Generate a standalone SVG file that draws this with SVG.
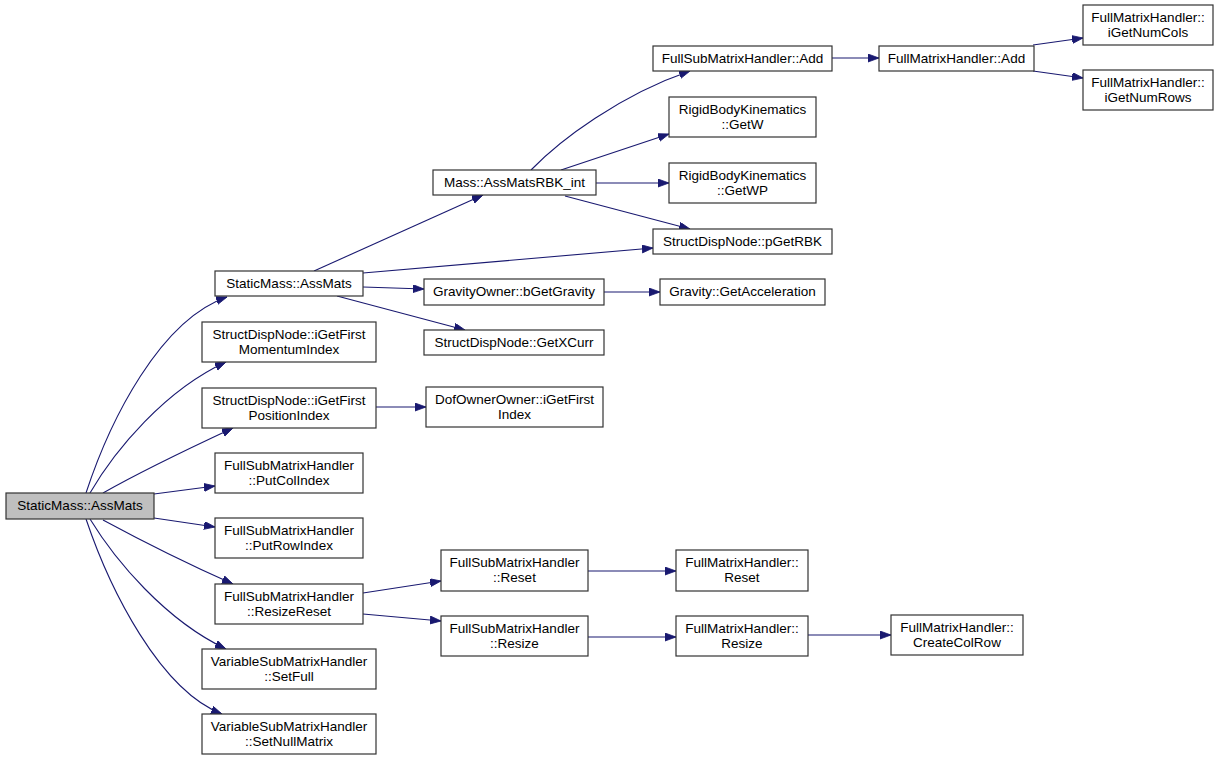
<svg xmlns="http://www.w3.org/2000/svg" width="1221" height="760" viewBox="0 0 1221 760">
<style>
.n rect{fill:#ffffff;stroke:#333333;stroke-width:1.2}
.root rect{fill:#bfbfbf;stroke:#333333;stroke-width:1.2}
text{font-family:"Liberation Sans",Arial,sans-serif;font-size:13.5px;fill:#000000;text-anchor:middle}
#edges path{fill:none;stroke:#191970;stroke-width:1.1;marker-end:url(#ah)}
</style>
<defs>
<marker id="ah" markerUnits="userSpaceOnUse" markerWidth="12" markerHeight="9" refX="11" refY="4" orient="auto">
<path d="M0,0 L11,4 L0,8 z" fill="#191970" stroke="#191970" stroke-width="0.8"/>
</marker>
</defs>
<rect width="1221" height="760" fill="#ffffff"/>
<g id="edges">
<path d="M86,493 C110,420 160,320 227,297"/>
<path d="M90,493 C115,450 165,390 226,362"/>
<path d="M103,493 C140,472 190,448 233,428"/>
<path d="M154,494 L215,486"/>
<path d="M154,518 L215,527"/>
<path d="M103,520 C140,540 190,565 233,584"/>
<path d="M90,519 C115,560 165,620 226,649"/>
<path d="M86,519 C110,590 160,690 222,714"/>
<path d="M314,271 L483,195"/>
<path d="M363,273 L653,248"/>
<path d="M363,287 L424,289"/>
<path d="M337,296 L465,330"/>
<path d="M531,170 C560,140 620,95 690,71"/>
<path d="M561,170 L669,134"/>
<path d="M596,183 L669,183"/>
<path d="M565,196 L690,229"/>
<path d="M832,58 L879,58"/>
<path d="M1033,45 L1083,38"/>
<path d="M1033,71 L1083,78"/>
<path d="M604,292 L660,292"/>
<path d="M376,407 L426,407"/>
<path d="M363,593 L441,581"/>
<path d="M363,614 L441,621"/>
<path d="M588,571 L676,571"/>
<path d="M588,637 L676,637"/>
<path d="M808,635 L891,635"/>
</g>
<g id="n0" class="root"><rect x="6" y="493" width="148" height="26"/><text x="80" y="510">StaticMass::AssMats</text></g>
<g id="n1" class="n"><rect x="215" y="271" width="148" height="25"/><text x="289" y="288">StaticMass::AssMats</text></g>
<g id="n2" class="n"><rect x="202" y="322" width="174" height="40"/><text x="289" y="339">StructDispNode::iGetFirst</text><text x="289" y="354">MomentumIndex</text></g>
<g id="n3" class="n"><rect x="202" y="388" width="174" height="40"/><text x="289" y="405">StructDispNode::iGetFirst</text><text x="289" y="420">PositionIndex</text></g>
<g id="n4" class="n"><rect x="215" y="453" width="148" height="40"/><text x="289" y="470">FullSubMatrixHandler</text><text x="289" y="485">::PutColIndex</text></g>
<g id="n5" class="n"><rect x="215" y="518" width="148" height="40"/><text x="289" y="535">FullSubMatrixHandler</text><text x="289" y="550">::PutRowIndex</text></g>
<g id="n6" class="n"><rect x="215" y="584" width="148" height="40"/><text x="289" y="601">FullSubMatrixHandler</text><text x="289" y="616">::ResizeReset</text></g>
<g id="n7" class="n"><rect x="202" y="649" width="174" height="40"/><text x="289" y="666">VariableSubMatrixHandler</text><text x="289" y="681">::SetFull</text></g>
<g id="n8" class="n"><rect x="202" y="714" width="174" height="40"/><text x="289" y="731">VariableSubMatrixHandler</text><text x="289" y="746">::SetNullMatrix</text></g>
<g id="n9" class="n"><rect x="433" y="170" width="163" height="25"/><text x="514.5" y="187">Mass::AssMatsRBK_int</text></g>
<g id="n10" class="n"><rect x="653" y="46" width="179" height="25"/><text x="742.5" y="63">FullSubMatrixHandler::Add</text></g>
<g id="n11" class="n"><rect x="669" y="97" width="147" height="40"/><text x="742.5" y="114">RigidBodyKinematics</text><text x="742.5" y="129">::GetW</text></g>
<g id="n12" class="n"><rect x="669" y="163" width="147" height="40"/><text x="742.5" y="180">RigidBodyKinematics</text><text x="742.5" y="195">::GetWP</text></g>
<g id="n13" class="n"><rect x="653" y="229" width="179" height="25"/><text x="742.5" y="246">StructDispNode::pGetRBK</text></g>
<g id="n14" class="n"><rect x="424" y="279" width="180" height="26"/><text x="514" y="296">GravityOwner::bGetGravity</text></g>
<g id="n15" class="n"><rect x="660" y="279" width="165" height="26"/><text x="742.5" y="296">Gravity::GetAcceleration</text></g>
<g id="n16" class="n"><rect x="424" y="330" width="180" height="25"/><text x="514" y="347">StructDispNode::GetXCurr</text></g>
<g id="n17" class="n"><rect x="879" y="46" width="155" height="25"/><text x="956.5" y="63">FullMatrixHandler::Add</text></g>
<g id="n18" class="n"><rect x="1083" y="5" width="130" height="40"/><text x="1148" y="22">FullMatrixHandler::</text><text x="1148" y="37">iGetNumCols</text></g>
<g id="n19" class="n"><rect x="1083" y="70" width="130" height="40"/><text x="1148" y="87">FullMatrixHandler::</text><text x="1148" y="102">iGetNumRows</text></g>
<g id="n20" class="n"><rect x="426" y="387" width="177" height="40"/><text x="514.5" y="404">DofOwnerOwner::iGetFirst</text><text x="514.5" y="419">Index</text></g>
<g id="n21" class="n"><rect x="441" y="550" width="147" height="41"/><text x="514.5" y="567">FullSubMatrixHandler</text><text x="514.5" y="582">::Reset</text></g>
<g id="n22" class="n"><rect x="441" y="616" width="147" height="40"/><text x="514.5" y="633">FullSubMatrixHandler</text><text x="514.5" y="648">::Resize</text></g>
<g id="n23" class="n"><rect x="676" y="550" width="132" height="41"/><text x="742" y="567">FullMatrixHandler::</text><text x="742" y="582">Reset</text></g>
<g id="n24" class="n"><rect x="676" y="616" width="132" height="40"/><text x="742" y="633">FullMatrixHandler::</text><text x="742" y="648">Resize</text></g>
<g id="n25" class="n"><rect x="891" y="615" width="132" height="40"/><text x="957" y="632">FullMatrixHandler::</text><text x="957" y="647">CreateColRow</text></g>
</svg>
